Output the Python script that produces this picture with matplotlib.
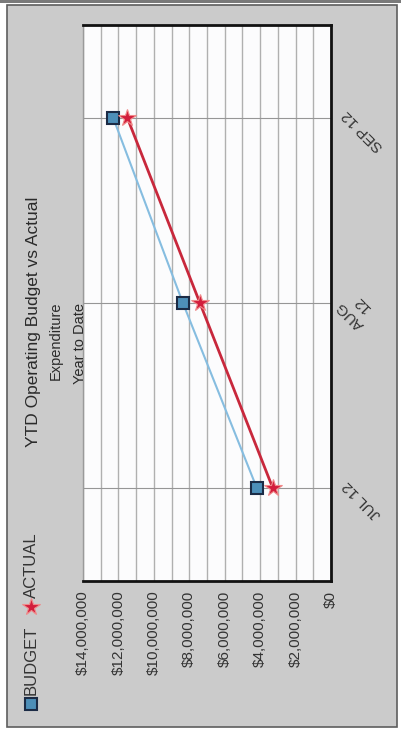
import matplotlib
matplotlib.use("Agg")
import matplotlib.pyplot as plt
from matplotlib.patches import Rectangle
from matplotlib.lines import Line2D
from matplotlib.ticker import MultipleLocator

plt.rcParams['font.family'] = ['Liberation Sans', 'DejaVu Sans']

# ---- data ----
categories = ["JUL 12", "AUG 12", "SEP 12"]
category_tick_labels = ["JUL 12", "AUG\n12", "SEP 12"]
budget = [4.18e6, 8.36e6, 12.3e6]
actual = [3.28e6, 7.40e6, 11.5e6]
series_names = ["BUDGET", "ACTUAL"]
value_ticks = [0, 2e6, 4e6, 6e6, 8e6, 10e6, 12e6, 14e6]
value_tick_labels = ["$0", "$2,000,000", "$4,000,000", "$6,000,000",
                     "$8,000,000", "$10,000,000", "$12,000,000", "$14,000,000"]
title = "YTD Operating Budget vs Actual"
subtitles = ["Expenditure", "Year to Date"]

W, H = 401, 733
fig = plt.figure(figsize=(W / 100, H / 100), dpi=100, facecolor='white')


def fx(x):
    return x / W


def fy(y):
    return 1 - y / H


# outer frame
fig.patches.append(Rectangle((0, fy(3)), 1, 3 / H, transform=fig.transFigure,
                             facecolor='#7a7a7a', edgecolor='none', zorder=-10))
fig.patches.append(Rectangle((fx(7), fy(727)), 390 / W, 722 / H, transform=fig.transFigure,
                             facecolor='#cbcbcb', edgecolor='#5e5e5e', lw=1.2, zorder=-10))

# plot area (chart is rotated 90 degrees counter-clockwise)
ax = fig.add_axes([fx(83), fy(581), 248 / W, 556 / H])
ax.set_zorder(2)
ax.set_facecolor('#fcfcfd')
ax.set_axisbelow(True)
ypos = list(range(len(categories)))

ax.plot(budget, ypos, color='#86bde0', lw=1.5, marker='s', ms=8.5,
        mfc='#4d8fb8', mec='#1b2b45', mew=1.5, zorder=3, label=series_names[0])
ax.plot(actual, ypos, color='#c8283c', lw=2, marker='*', ms=13,
        mfc='#d21e3c', mec='#f08a8a', mew=0.8, zorder=4, label=series_names[1])

ax.set_xlim(14e6, 0)
ax.set_ylim(-0.5, len(categories) - 0.5)
ax.set_xticks(value_ticks)
ax.set_xticklabels(value_tick_labels, rotation=90, fontsize=11, color='#333333')
ax.xaxis.set_minor_locator(MultipleLocator(1e6))
ax.grid(axis='x', which='both', color='#b0b0b0', lw=1)
ax.set_yticks(ypos)
ax.set_yticklabels([])
ax.grid(axis='y', which='major', color='#969696', lw=0.8)
ax.tick_params(length=0, which='both', pad=7)

for i, lab in enumerate(category_tick_labels):
    ax.annotate(lab, xy=(1, ypos[i]), xycoords=('axes fraction', 'data'),
                xytext=(14, 5), textcoords='offset pixels', rotation=135,
                rotation_mode='anchor', ha='right', va='center', fontsize=11,
                color='#333333', multialignment='center', annotation_clip=False)

for s in ['top', 'right', 'bottom']:
    ax.spines[s].set_color('#111111')
    ax.spines[s].set_linewidth(2)
ax.spines['left'].set_color('#9a9a9a')
ax.spines['left'].set_linewidth(1)

# titles
fig.text(fx(34), fy(322), title, rotation=90, ha='center', va='center',
         fontsize=12.5, color='#2a2a2a')
fig.text(fx(56), fy(341), subtitles[0], rotation=90, ha='center', va='center',
         fontsize=10.5, color='#2a2a2a')
fig.text(fx(80), fy(344), subtitles[1], rotation=90, ha='center', va='center',
         fontsize=10.5, color='#2a2a2a')

# legend (rotated)
fig.add_artist(Line2D([fx(31)], [fy(704)], transform=fig.transFigure, marker='s', ms=8.5,
                      mfc='#4d8fb8', mec='#1b2b45', mew=1.5, ls='none', zorder=5))
fig.text(fx(31), fy(695), series_names[0], rotation=90, ha='center', va='bottom',
         fontsize=12, color='#333333')
fig.add_artist(Line2D([fx(31)], [fy(607)], transform=fig.transFigure, marker='*', ms=13,
                      mfc='#d21e3c', mec='#f08a8a', mew=0.8, ls='none', zorder=5))
fig.text(fx(31), fy(598), series_names[1], rotation=90, ha='center', va='bottom',
         fontsize=12, color='#333333')

fig.savefig('out.png', dpi=100, facecolor='white')
